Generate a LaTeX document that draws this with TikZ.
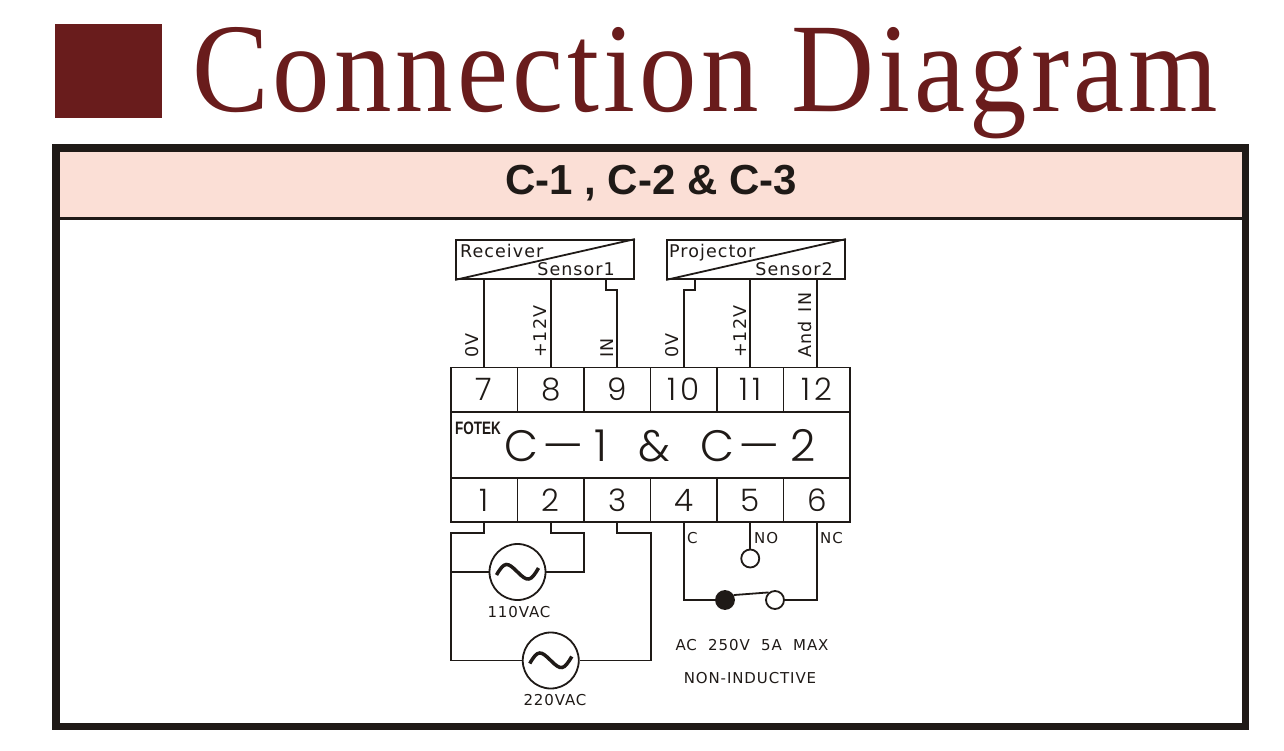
\documentclass[tikz,border=0pt]{standalone}
\usepackage{fontspec}
\setmainfont{Liberation Sans}
\newfontfamily\titlefont[FakeStretch=0.905, LetterSpace=3.2]{Liberation Serif}
\newfontfamily\cadfont[LetterSpace=6]{DejaVu Sans}
\newfontfamily\numfont[LetterSpace=14]{Poppins Light}
\newfontfamily\modelfont[LetterSpace=8]{Poppins Light}
\newfontfamily\brandfont[FakeStretch=0.75]{Liberation Sans}
\usetikzlibrary{positioning}
\definecolor{titlered}{HTML}{691C1C}
\definecolor{bandpink}{HTML}{FBDFD6}
\definecolor{inkblack}{HTML}{1F1A17}
\newcommand{\longhyph}{\kern5pt\scalebox{2}[1]{-}\kern5pt}
\tikzset{
    cell/.style={draw, line width=1.8pt, minimum width=66.5pt, minimum height=44pt, inner sep=0pt, font=\fontsize{31}{31}\numfont},
    sensorbox/.style={draw, line width=1.8pt, minimum width=178pt, minimum height=39pt, inner sep=0pt},
    wire/.style={line width=1.8pt, line join=miter},
    lab/.style={inner sep=0pt, font=\fontsize{17.5}{17.5}\cadfont},
    small/.style={inner sep=0pt, font=\fontsize{15}{15}\cadfont},
    ac/.style={draw, circle, line width=1.8pt, minimum size=56pt, inner sep=0pt},
    contact/.style={draw, circle, line width=1.8pt, fill=white, minimum size=18pt, inner sep=0pt}
}
\begin{document}
\begin{tikzpicture}[x=1pt, y=-1pt, inkblack]
    \useasboundingbox (0, 0) rectangle (1284, 751);

    % title
    \node[fill=titlered, minimum width=107pt, minimum height=94pt, inner sep=0pt] (mark) at (108.5, 71) {};
    \node[anchor=base west, inner sep=0pt, text=titlered, font=\fontsize{127}{127}\titlefont] (title) at (192, 111.5) {Connection Diagram};

    % frame
    \node[fill=bandpink, minimum width=1186pt, minimum height=68pt, inner sep=0pt] (band) at (650, 184) {};
    \node[draw, line width=7.5pt, minimum width=1189.5pt, minimum height=578pt, inner sep=0pt] (frame) at (650.5, 437.25) {};
    \draw[line width=3.3pt] (band.south west) -- (band.south east);
    \node[anchor=base, font=\fontsize{42}{42}\bfseries, inner sep=0pt] (head) at (651, 195) {C-1 , C-2 \& C-3};

    % sensors
    \node[sensorbox] (recv) at (545, 259.5) {};
    \node[sensorbox] (proj) at (756, 259.5) {};
    \draw[wire] (recv.south west) -- (recv.north east);
    \draw[wire] (proj.south west) -- (proj.north east);
    \node[lab, anchor=base west] (recvt) at (460, 258) {Receiver};
    \node[lab, anchor=base east] (sens1) at (615, 276) {Sensor1};
    \node[lab, anchor=base west] (projt) at (669, 258) {Projector};
    \node[lab, anchor=base east] (sens2) at (833, 276) {Sensor2};

    % terminals
    \foreach \n/\x in {7/484.25, 8/550.75, 9/617.25, 10/683.75, 11/750.25, 12/816.75}
        \node[cell] (t\n) at (\x, 389.5) {\raisebox{-4pt}{\n}};
    \foreach \n/\x in {1/484.25, 2/550.75, 3/617.25, 4/683.75, 5/750.25, 6/816.75}
        \node[cell] (t\n) at (\x, 500) {\raisebox{-4pt}{\n}};
    \node[draw, line width=1.8pt, minimum width=399pt, minimum height=66.5pt, inner sep=0pt] (body) at (650.5, 445) {};
    \node[inner sep=0pt, anchor=west, font=\fontsize{18}{18}\brandfont\bfseries] (brand) at (455, 428.5) {FOTEK};
    \node[inner sep=0pt, font=\fontsize{44}{44}\modelfont] (model) at (660, 446) {C\longhyph 1 \ \& \ C\longhyph 2};

    % upper wires
    \coordinate (k9a) at (606, 290);
    \coordinate (k10a) at (695, 290);
    \draw[wire] (t7.north) -- (t7.north |- recv.south);
    \draw[wire] (t8.north) -- (t8.north |- recv.south);
    \draw[wire] (t9.north) -- (t9.north |- k9a) -- (k9a) -- (k9a |- recv.south);
    \draw[wire] (t10.north) -- (t10.north |- k10a) -- (k10a) -- (k10a |- proj.south);
    \draw[wire] (t11.north) -- (t11.north |- proj.south);
    \draw[wire] (t12.north) -- (t12.north |- proj.south);
    \node[lab, rotate=90, anchor=base west] (l0a) at (478, 358) {0V};
    \node[lab, rotate=90, anchor=base west] (l12a) at (546, 358) {+12V};
    \node[lab, rotate=90, anchor=base west] (lin) at (613, 358) {IN};
    \node[lab, rotate=90, anchor=base west] (l0b) at (678, 358) {0V};
    \node[lab, rotate=90, anchor=base west] (l12b) at (746, 358) {+12V};
    \node[lab, rotate=90, anchor=base west] (land) at (811, 358) {And \,IN};

    % supply
    \node[ac] (ac110) at (517.5, 572) {};
    \node[ac] (ac220) at (550.75, 660.5) {};
    \foreach \c in {ac110, ac220}
        \draw[line width=3.5pt] ([xshift=-21pt, yshift=-3pt]\c.center) .. controls +(8, -14) and +(-10, -10) .. (\c.center) .. controls +(10, 10) and +(-8, 14) .. ([xshift=21pt, yshift=4pt]\c.center);
    \coordinate (railL) at (451, 533);
    \coordinate (railR) at (651, 533);
    \coordinate (bend2) at (584, 533);
    \draw[wire] (t1.south) -- (t1.south |- railL) -- (railL) -- (railL |- ac220) -- (ac220);
    \draw[wire] (railL |- ac110) -- (ac110);
    \draw[wire] (t2.south) -- (t2.south |- bend2) -- (bend2) -- (bend2 |- ac110) -- (ac110);
    \draw[wire] (t3.south) -- (t3.south |- railR) -- (railR) -- (railR |- ac220) -- (ac220);
    \node[small, anchor=base] (v110) at (519, 617) {110VAC};
    \node[small, anchor=base] (v220) at (555, 705) {220VAC};

    % relay
    \node[contact] (no) at (750.25, 558.5) {};
    \node[contact, fill=inkblack] (com) at (725, 600) {};
    \node[contact] (nc) at (775, 600) {};
    \draw[wire] (t4.south) -- (t4.south |- com) -- (com);
    \draw[wire] (t5.south) -- (no);
    \draw[wire] (t6.south) -- (t6.south |- nc) -- (nc);
    \draw[wire] (com.30) -- (nc.130);
    \node[small, anchor=base west] (lc) at (687, 543) {C};
    \node[small, anchor=base west] (lno) at (754, 543) {NO};
    \node[small, anchor=base west] (lnc) at (820, 543) {NC};
    \node[small, anchor=base] (rate) at (752, 650) {AC \ 250V \ 5A \ MAX};
    \node[small, anchor=base] (ind) at (750, 683) {NON-INDUCTIVE};
\end{tikzpicture}
\end{document}
